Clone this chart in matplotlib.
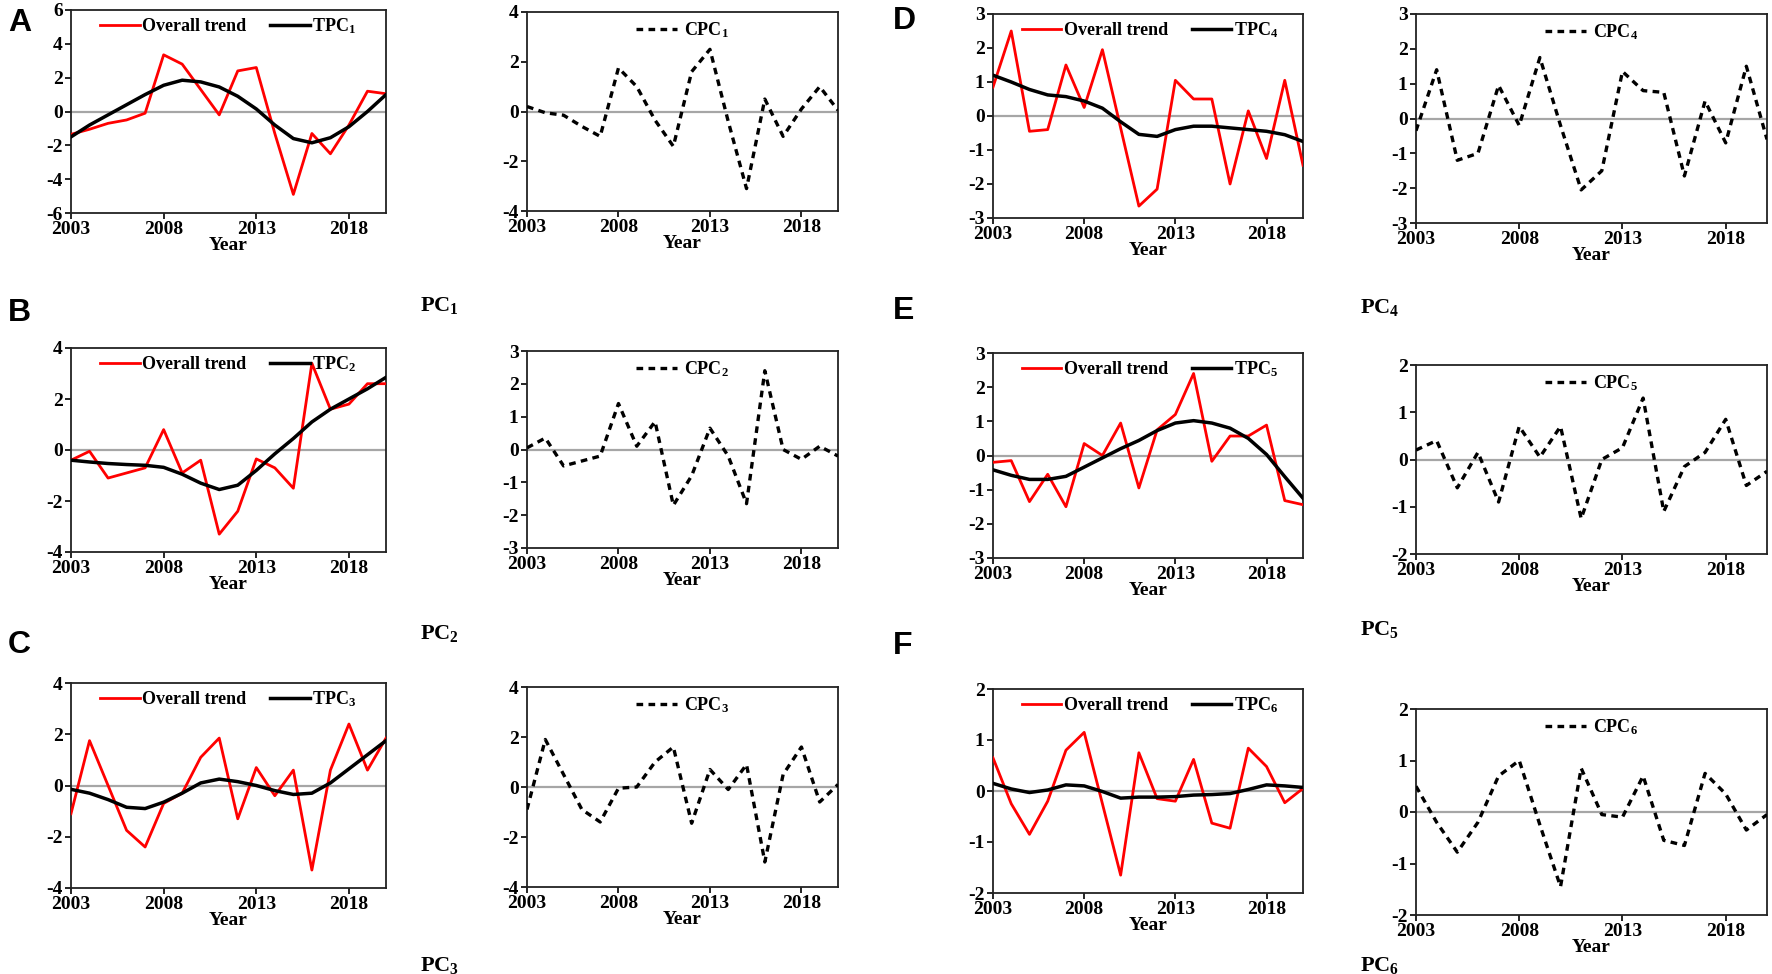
import matplotlib
matplotlib.use("Agg")
import matplotlib.pyplot as plt

plt.rcParams['font.family'] = 'Liberation Serif'
plt.rcParams['font.weight'] = 'bold'
plt.rcParams['axes.unicode_minus'] = False
plt.rcParams['mathtext.fontset'] = 'custom'
plt.rcParams['mathtext.rm'] = 'Liberation Serif:bold'
plt.rcParams['mathtext.it'] = 'Liberation Serif:bold'
plt.rcParams['mathtext.bf'] = 'Liberation Serif:bold'

years = [2003, 2004, 2005, 2006, 2007, 2008, 2009, 2010, 2011,
         2012, 2013, 2014, 2015, 2016, 2017, 2018, 2019, 2020]

overall1 = [-1.35, -1.05, -0.7, -0.5, -0.1, 3.35, 2.8, 1.3, -0.2, 2.4, 2.6, -1.3, -4.9, -1.3, -2.5, -0.8, 1.2, 1.05]
tpc1 = [-1.5, -0.8, -0.2, 0.4, 1.0, 1.55, 1.85, 1.75, 1.45, 0.9, 0.15, -0.8, -1.6, -1.85, -1.55, -0.9, 0.0, 1.0]
cpc1 = [0.2, -0.05, -0.15, -0.6, -1.0, 1.75, 1.0, -0.35, -1.4, 1.6, 2.5, -0.4, -3.1, 0.5, -1.0, 0.1, 1.0, 0.05]

overall2 = [-0.4, -0.05, -1.1, -0.9, -0.7, 0.8, -0.9, -0.4, -3.3, -2.4, -0.35, -0.7, -1.5, 3.4, 1.6, 1.8, 2.6, 2.6]
tpc2 = [-0.4, -0.47, -0.53, -0.57, -0.6, -0.68, -0.95, -1.3, -1.55, -1.38, -0.8, -0.15, 0.45, 1.1, 1.6, 2.0, 2.4, 2.85]
cpc2 = [0.05, 0.35, -0.5, -0.35, -0.2, 1.4, 0.1, 0.85, -1.7, -0.8, 0.65, -0.2, -1.65, 2.4, 0.0, -0.3, 0.1, -0.2]

overall3 = [-1.1, 1.75, 0.0, -1.75, -2.4, -0.7, -0.3, 1.1, 1.85, -1.3, 0.7, -0.4, 0.6, -3.3, 0.6, 2.4, 0.6, 1.85]
tpc3 = [-0.15, -0.3, -0.55, -0.85, -0.9, -0.65, -0.3, 0.1, 0.25, 0.15, 0.0, -0.2, -0.35, -0.3, 0.1, 0.65, 1.2, 1.75]
cpc3 = [-0.9, 1.9, 0.5, -0.9, -1.4, -0.05, 0.0, 1.0, 1.6, -1.45, 0.7, -0.1, 0.9, -3.0, 0.5, 1.6, -0.6, 0.1]

overall4 = [0.85, 2.5, -0.45, -0.4, 1.5, 0.25, 1.95, -0.35, -2.65, -2.15, 1.05, 0.5, 0.5, -2.0, 0.15, -1.25, 1.05, -1.45]
tpc4 = [1.2, 1.0, 0.78, 0.62, 0.57, 0.44, 0.23, -0.17, -0.54, -0.6, -0.4, -0.3, -0.3, -0.35, -0.4, -0.45, -0.55, -0.75]
cpc4 = [-0.35, 1.4, -1.2, -1.0, 0.95, -0.2, 1.75, -0.2, -2.05, -1.5, 1.35, 0.8, 0.75, -1.65, 0.5, -0.7, 1.5, -0.6]

overall5 = [-0.2, -0.15, -1.35, -0.55, -1.5, 0.35, 0.0, 0.95, -0.95, 0.75, 1.2, 2.4, -0.17, 0.57, 0.57, 0.89, -1.32, -1.44]
tpc5 = [-0.42, -0.58, -0.7, -0.7, -0.61, -0.34, -0.07, 0.2, 0.44, 0.73, 0.95, 1.02, 0.95, 0.8, 0.5, 0.03, -0.62, -1.25]
cpc5 = [0.2, 0.4, -0.6, 0.15, -0.9, 0.7, 0.05, 0.7, -1.25, 0.0, 0.25, 1.3, -1.1, -0.15, 0.15, 0.85, -0.55, -0.25]

overall6 = [0.65, -0.25, -0.85, -0.2, 0.8, 1.15, -0.25, -1.65, 0.75, -0.15, -0.2, 0.62, -0.63, -0.73, 0.84, 0.48, -0.23, 0.05]
tpc6 = [0.15, 0.04, -0.03, 0.02, 0.12, 0.1, -0.01, -0.14, -0.12, -0.12, -0.11, -0.08, -0.07, -0.05, 0.03, 0.12, 0.1, 0.07]
cpc6 = [0.5, -0.2, -0.78, -0.2, 0.7, 1.0, -0.25, -1.45, 0.85, -0.05, -0.1, 0.7, -0.55, -0.65, 0.75, 0.35, -0.35, -0.05]

overall = [overall1, overall2, overall3, overall4, overall5, overall6]
tpc = [tpc1, tpc2, tpc3, tpc4, tpc5, tpc6]
cpc = [cpc1, cpc2, cpc3, cpc4, cpc5, cpc6]
letters = ["A", "B", "C", "D", "E", "F"]

# y limits / step for (trend plot, cpc plot)
ylims = [((-6, 6, 2), (-4, 4, 2)),
         ((-4, 4, 2), (-3, 3, 1)),
         ((-4, 4, 2), (-4, 4, 2)),
         ((-3, 3, 1), (-3, 3, 1)),
         ((-3, 3, 1), (-2, 2, 1)),
         ((-2, 2, 1), (-2, 2, 1))]

W, H = 1772, 974
fig = plt.figure(figsize=(W / 100, H / 100), dpi=100)

def add_ax(x0, x1, y0, y1):
    return fig.add_axes([x0 / W, 1 - y1 / H, (x1 - x0) / W, (y1 - y0) / H])

# pixel boxes: (left, right, top, bottom)
boxes_l = [(71, 386, 10, 213), (71, 386, 348, 552), (71, 386, 683, 888),
           (993, 1303, 14, 218), (993, 1303, 353, 558), (993, 1303, 689, 893)]
boxes_r = [(527, 838, 12, 211), (527, 838, 351, 548), (527, 838, 687, 887),
           (1416, 1767, 14, 223), (1416, 1767, 365, 554), (1416, 1767, 709, 915)]
letter_pos = [(8, 31), (8, 321), (8, 653), (893, 29), (893, 319), (893, 654)]
pc_pos = [(420, 305), (420, 633), (420, 966), (1360, 308), (1360, 630), (1360, 966)]


def style(ax, lim):
    lo, hi, st = lim
    ax.set_xlim(2003, 2020)
    ax.set_ylim(lo, hi)
    ax.set_xticks([2003, 2008, 2013, 2018])
    ax.set_yticks(list(range(lo, hi + 1, st)))
    ax.axhline(0, color='#a6a6a6', lw=1.6, zorder=1)
    for s in ax.spines.values():
        s.set_linewidth(1.3)
        s.set_color('#222222')
    ax.tick_params(direction='out', length=4, width=1.2, labelsize=14, pad=2)
    ax.set_xlabel("Year", fontsize=14, fontweight='bold', labelpad=-1)


for i in range(6):
    k = i + 1
    ax = add_ax(*boxes_l[i])
    ax.plot(years, overall[i], color='#ff0000', lw=2.0, label="Overall trend", zorder=3)
    ax.plot(years, tpc[i], color='black', lw=2.5, label="TPC$_{%d}$" % k, zorder=4)
    style(ax, ylims[i][0])
    ax.legend(loc='upper left', bbox_to_anchor=(0.04, 1.05), ncol=2, frameon=False,
              fontsize=13, handlelength=2.2, handletextpad=0.15, columnspacing=1.3)

    ax2 = add_ax(*boxes_r[i])
    ax2.plot(years, cpc[i], color='black', lw=2.4, linestyle=(0, (2.0, 1.6)),
             label="CPC$_{%d}$" % k, zorder=3)
    style(ax2, ylims[i][1])
    ax2.legend(loc='upper center', bbox_to_anchor=(0.5, 1.04), frameon=False,
               fontsize=13, handlelength=2.3, handletextpad=0.4)

    fig.text(letter_pos[i][0] / W, 1 - letter_pos[i][1] / H, letters[i],
             family='Liberation Sans', fontweight='bold', fontsize=23, va='baseline')
    fig.text(pc_pos[i][0] / W, 1 - pc_pos[i][1] / H, "PC$_{%d}$" % k,
             fontweight='bold', fontsize=16, va='center')

fig.savefig("out.png", dpi=100)
